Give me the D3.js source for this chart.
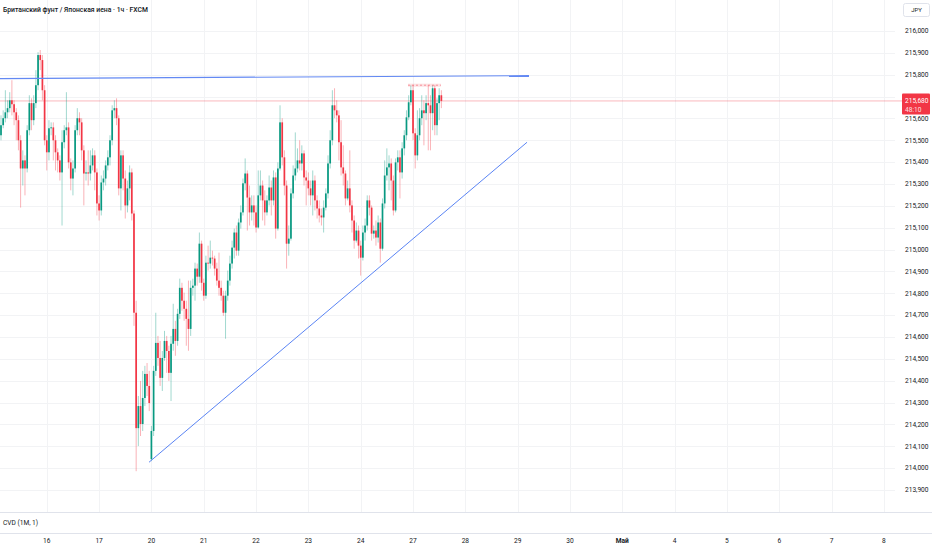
<!DOCTYPE html>
<html>
<head>
<meta charset="utf-8">
<script src="https://cdn.jsdelivr.net/npm/d3@7"></script>
<style>
  body { margin: 0; background: #ffffff; }
  #wrapper svg { display: block; font-family: Roboto, "Noto Sans", sans-serif; }
</style>
</head>
<body>
<div id="wrapper"></div>
<script>
// GBP/JPY 1h candles (price), open = previous close unless listed in gapOpens
const closes = [
  215.569, 215.601, 215.628, 215.647, 215.683, 215.665, 215.628, 215.592, 215.500, 215.371,
  215.408, 215.371, 215.546, 215.670, 215.592, 215.670, 215.752, 215.890, 215.867, 215.729,
  215.500, 215.445, 215.555, 215.559, 215.500, 215.445, 215.408, 215.353, 215.491, 215.546,
  215.559, 215.399, 215.325, 215.371, 215.546, 215.601, 215.582, 215.454, 215.348, 215.353,
  215.348, 215.385, 215.431, 215.353, 215.211, 215.179, 215.307, 215.325, 215.385, 215.422,
  215.500, 215.637, 215.647, 215.601, 215.280, 215.431, 215.325, 215.202, 215.280, 215.353,
  215.165, 214.711, 214.183, 214.284, 214.202, 214.321, 214.431, 214.376, 214.298, 214.170,
  214.445, 214.573, 214.504, 214.413, 214.504, 214.582, 214.536, 214.436, 214.569, 214.637,
  214.582, 214.706, 214.825, 214.766, 214.729, 214.683, 214.637, 214.825, 214.835, 214.913,
  214.876, 215.027, 214.848, 214.789, 214.940, 214.936, 214.963, 214.959, 214.913, 214.858,
  214.825, 214.789, 214.711, 214.789, 214.858, 214.936, 215.009, 215.078, 214.995, 215.124,
  215.170, 215.303, 215.348, 215.238, 215.170, 215.202, 215.170, 215.101, 215.248, 215.293,
  215.225, 215.170, 215.225, 215.284, 215.225, 215.330, 215.096, 215.371, 215.582, 215.422,
  215.293, 215.027, 215.050, 215.257, 215.339, 215.371, 215.408, 215.394, 215.440, 215.330,
  215.316, 215.280, 215.248, 215.316, 215.225, 215.188, 215.156, 215.147, 215.192, 215.257,
  215.394, 215.500, 215.660, 215.637, 215.614, 215.491, 215.376, 215.348, 215.234, 215.280,
  215.202, 215.133, 215.041, 215.087, 215.018, 214.963, 215.078, 215.110, 215.225, 215.192,
  215.073, 215.087, 215.055, 215.124, 215.004, 215.211, 215.339, 215.376, 215.394, 215.316,
  215.179, 215.399, 215.422, 215.353, 215.463, 215.523, 215.605, 215.674, 215.729, 215.532,
  215.431, 215.523, 215.601, 215.637, 215.624, 215.670, 215.660, 215.624, 215.738, 215.569,
  215.670, 215.706, 215.680
]
const highs = [
  215.614, 215.637, 215.729, 215.683, 215.720, 215.775, 215.683, 215.647, 215.614, 215.523,
  215.454, 215.431, 215.569, 215.706, 215.692, 215.706, 215.821, 215.903, 215.913, 215.890,
  215.752, 215.523, 215.592, 215.582, 215.582, 215.523, 215.463, 215.431, 215.546, 215.569,
  215.720, 215.582, 215.417, 215.408, 215.569, 215.647, 215.628, 215.601, 215.477, 215.408,
  215.454, 215.454, 215.463, 215.454, 215.371, 215.248, 215.339, 215.362, 215.408, 215.454,
  215.523, 215.660, 215.683, 215.692, 215.614, 215.454, 215.454, 215.362, 215.316, 215.385,
  215.371, 215.179, 214.766, 214.330, 214.399, 214.445, 214.468, 214.481, 214.445, 214.193,
  214.468, 214.711, 214.605, 214.582, 214.536, 214.628, 214.605, 214.560, 214.605, 214.752,
  214.674, 214.729, 214.867, 214.848, 214.803, 214.766, 214.858, 214.858, 214.867, 214.940,
  214.936, 215.078, 215.041, 214.867, 214.972, 215.018, 215.041, 214.995, 214.972, 214.940,
  214.986, 214.858, 214.812, 214.812, 214.904, 214.972, 215.041, 215.096, 215.110, 215.142,
  215.202, 215.325, 215.417, 215.362, 215.293, 215.248, 215.248, 215.202, 215.362, 215.362,
  215.316, 215.271, 215.248, 215.339, 215.316, 215.362, 215.353, 215.399, 215.660, 215.601,
  215.454, 215.316, 215.110, 215.280, 215.385, 215.536, 215.463, 215.500, 215.477, 215.454,
  215.362, 215.353, 215.316, 215.362, 215.339, 215.248, 215.225, 215.188, 215.225, 215.280,
  215.431, 215.546, 215.729, 215.738, 215.683, 215.637, 215.592, 215.477, 215.362, 215.316,
  215.454, 215.225, 215.156, 215.124, 215.110, 215.041, 215.110, 215.142, 215.248, 215.248,
  215.202, 215.110, 215.133, 215.156, 215.142, 215.234, 215.408, 215.463, 215.431, 215.417,
  215.339, 215.417, 215.454, 215.454, 215.491, 215.546, 215.637, 215.706, 215.752, 215.752,
  215.555, 215.637, 215.647, 215.706, 215.683, 215.706, 215.752, 215.706, 215.752, 215.752,
  215.692, 215.738, 215.729
]
const lows = [
  215.500, 215.555, 215.582, 215.601, 215.628, 215.614, 215.569, 215.500, 215.454, 215.192,
  215.293, 215.248, 215.353, 215.523, 215.546, 215.569, 215.647, 215.729, 215.821, 215.683,
  215.477, 215.362, 215.408, 215.523, 215.408, 215.362, 215.353, 215.316, 215.110, 215.463,
  215.523, 215.371, 215.271, 215.248, 215.353, 215.523, 215.523, 215.408, 215.202, 215.316,
  215.293, 215.316, 215.362, 215.271, 215.156, 215.133, 215.156, 215.271, 215.293, 215.362,
  215.385, 215.477, 215.601, 215.569, 215.248, 215.179, 215.271, 215.142, 215.170, 215.225,
  215.133, 214.651, 213.986, 214.101, 214.147, 214.170, 214.284, 214.330, 214.261, 214.032,
  214.147, 214.422, 214.468, 214.376, 214.353, 214.491, 214.436, 214.399, 214.307, 214.537,
  214.514, 214.560, 214.683, 214.720, 214.674, 214.560, 214.537, 214.605, 214.789, 214.766,
  214.835, 214.848, 214.812, 214.766, 214.775, 214.904, 214.913, 214.927, 214.881, 214.835,
  214.789, 214.766, 214.697, 214.592, 214.766, 214.835, 214.913, 214.959, 214.972, 214.972,
  215.096, 215.156, 215.271, 215.087, 215.110, 215.133, 215.110, 215.078, 215.096, 215.225,
  215.133, 215.110, 215.156, 215.202, 215.156, 215.202, 215.050, 215.087, 215.362, 215.385,
  215.248, 214.913, 214.972, 215.041, 215.234, 215.316, 215.353, 215.362, 215.362, 215.293,
  215.202, 215.248, 215.202, 215.156, 215.179, 215.142, 215.124, 215.110, 215.078, 215.179,
  215.234, 215.371, 215.477, 215.601, 215.582, 215.408, 215.339, 215.293, 215.202, 215.225,
  215.170, 215.078, 215.004, 215.032, 214.959, 214.881, 214.950, 215.041, 215.087, 215.156,
  215.041, 215.050, 215.018, 215.032, 214.940, 214.995, 215.188, 215.316, 215.271, 215.225,
  215.156, 215.170, 215.362, 215.234, 215.325, 215.431, 215.500, 215.592, 215.660, 215.500,
  215.371, 215.408, 215.500, 215.569, 215.477, 215.592, 215.454, 215.454, 215.546, 215.523,
  215.523, 215.592, 215.647
]
const firstOpen = 215.523
const gapOpens = [{ index: 69, open: 214.041 }]

// time axis: first label sits on candle 21, one day = 24 candles
const dayLabels = ["16", "17", "20", "21", "22", "23", "24", "27", "28", "29", "30", "Май", "4", "5", "6", "7", "8"]
const monthLabels = ["Май"]
const firstDayIndex = 21
const candlesPerDay = 24

const priceTicks = [
  216.0, 215.9, 215.8, 215.7, 215.6, 215.5, 215.4, 215.3, 215.2, 215.1, 215.0,
  214.9, 214.8, 214.7, 214.6, 214.5, 214.4, 214.3, 214.2, 214.1, 214.0, 213.9
]
const lastPrice = 215.680
const countdown = "48:10"

// drawings: [candle index, price]
const resistanceLine = [[-0.46, 215.782], [242.2, 215.796]]
const supportLine = [[67.9, 214.027], [241.3, 215.491]]
const sessionHigh = { from: 186.7, to: 201.8, price: 215.752 }

function drawChart() {
  const dimensions = {
    width: 932,
    height: 550,
    plotRight: 895,
    paneBottom: 512,
    cvdBottom: 533
  }

  const data = closes.map((c, i) => {
    const gap = gapOpens.find(g => g.index === i)
    const open = gap ? gap.open : (i === 0 ? firstOpen : closes[i - 1])
    return {
      i: i,
      open: open,
      close: c,
      high: Math.max(highs[i], open, c),
      low: Math.min(lows[i], open, c)
    }
  })

  const wrapper = d3.select("#wrapper")
    .append("svg")
      .attr("width", dimensions.width)
      .attr("height", dimensions.height)

  // scales
  const xScale = d3.scaleLinear()
    .domain([0, 410])
    .range([1, 1 + 410 * 2.18])

  const yScale = d3.scaleLinear()
    .domain([213.9, 216.0])
    .range([490, 31])

  // grid
  const grid = wrapper.append("g")
  grid.selectAll("line.h")
    .data(priceTicks)
    .enter().append("line")
      .attr("class", "h")
      .attr("x1", 0)
      .attr("x2", dimensions.plotRight)
      .attr("y1", d => Math.round(yScale(d)) + 0.5)
      .attr("y2", d => Math.round(yScale(d)) + 0.5)
      .attr("stroke", "#f2f3f5")

  grid.selectAll("line.v")
    .data(dayLabels)
    .enter().append("line")
      .attr("class", "v")
      .attr("x1", (d, j) => Math.round(xScale(firstDayIndex + j * candlesPerDay)) + 0.5)
      .attr("x2", (d, j) => Math.round(xScale(firstDayIndex + j * candlesPerDay)) + 0.5)
      .attr("y1", 0)
      .attr("y2", dimensions.paneBottom)
      .attr("stroke", "#f2f3f5")

  // pane separators
  wrapper.append("line")
    .attr("x1", 0).attr("x2", dimensions.width)
    .attr("y1", dimensions.paneBottom + 0.5).attr("y2", dimensions.paneBottom + 0.5)
    .attr("stroke", "#e0e3eb")
  wrapper.append("line")
    .attr("x1", 0).attr("x2", dimensions.width)
    .attr("y1", dimensions.cvdBottom + 0.5).attr("y2", dimensions.cvdBottom + 0.5)
    .attr("stroke", "#e0e3eb")

  // last price line
  wrapper.append("line")
    .attr("x1", 0)
    .attr("x2", dimensions.plotRight + 8)
    .attr("y1", yScale(lastPrice))
    .attr("y2", yScale(lastPrice))
    .attr("stroke", "#f23645")
    .attr("stroke-opacity", 0.35)

  // candles
  const up = "#089981"
  const down = "#f23645"
  const candles = wrapper.append("g")
  candles.selectAll("line.wick")
    .data(data)
    .enter().append("line")
      .attr("class", "wick")
      .attr("x1", d => xScale(d.i))
      .attr("x2", d => xScale(d.i))
      .attr("y1", d => yScale(d.high))
      .attr("y2", d => yScale(d.low))
      .attr("stroke", d => d.close >= d.open ? up : down)
      .attr("stroke-opacity", 0.38)
      .attr("stroke-width", 1)

  candles.selectAll("rect.body")
    .data(data)
    .enter().append("rect")
      .attr("class", "body")
      .attr("x", d => xScale(d.i) - 0.85)
      .attr("width", 1.7)
      .attr("y", d => yScale(Math.max(d.open, d.close)))
      .attr("height", d => Math.max(0.8, Math.abs(yScale(d.open) - yScale(d.close))))
      .attr("fill", d => d.close >= d.open ? up : down)

  // session high marker
  const sx1 = xScale(sessionHigh.from)
  const sx2 = xScale(sessionHigh.to)
  const sy = yScale(sessionHigh.price)
  wrapper.append("rect")
    .attr("x", sx1).attr("width", sx2 - sx1)
    .attr("y", sy - 1.5).attr("height", 3)
    .attr("fill", "#f23645")
    .attr("fill-opacity", 0.15)
  wrapper.append("line")
    .attr("x1", sx1).attr("x2", sx2)
    .attr("y1", sy).attr("y2", sy)
    .attr("stroke", "#f23645")
    .attr("stroke-opacity", 0.45)
    .attr("stroke-dasharray", "2,2")

  // drawings
  const lineGen = d3.line()
    .x(d => xScale(d[0]))
    .y(d => yScale(d[1]))
  wrapper.append("path")
    .attr("d", lineGen(resistanceLine))
    .attr("fill", "none")
    .attr("stroke", "#6389f3")
    .attr("stroke-width", 1.1)
  wrapper.append("path")
    .attr("d", lineGen(supportLine))
    .attr("fill", "none")
    .attr("stroke", "#5a84f4")
    .attr("stroke-width", 1)

  // price axis (the label under the last-price box stays partly hidden, as in the source)
  const fmt = d3.format(".3f")
  const lyTop = yScale(lastPrice) - 7.5
  const axisClip = wrapper.append("clipPath").attr("id", "above-box")
  axisClip.append("rect")
    .attr("x", 895).attr("y", 0)
    .attr("width", 37).attr("height", lyTop)

  wrapper.append("g")
    .selectAll("text")
    .data(priceTicks)
    .enter().append("text")
      .attr("x", 905)
      .attr("y", d => yScale(d))
      .attr("dy", "0.35em")
      .attr("font-size", 6.6)
      .attr("fill", "#131722")
      .attr("clip-path", d => Math.abs(yScale(d) - yScale(lastPrice)) < 10 && d > lastPrice ? "url(#above-box)" : null)
      .text(d => fmt(d).replace(".", ","))

  // currency box
  wrapper.append("rect")
    .attr("x", 903.5).attr("y", 3.5)
    .attr("width", 26).attr("height", 13)
    .attr("rx", 2)
    .attr("fill", "#ffffff")
    .attr("stroke", "#e0e3eb")
  wrapper.append("text")
    .attr("x", 916.5).attr("y", 10)
    .attr("dy", "0.35em")
    .attr("text-anchor", "middle")
    .attr("font-size", 6)
    .attr("fill", "#131722")
    .text("JPY")

  // last price label
  const ly = yScale(lastPrice)
  wrapper.append("rect")
    .attr("x", 902).attr("y", ly - 7.5)
    .attr("width", 28).attr("height", 21)
    .attr("rx", 1)
    .attr("fill", "#f23645")
  wrapper.append("text")
    .attr("x", 905).attr("y", ly)
    .attr("dy", "0.35em")
    .attr("font-size", 6.6)
    .attr("fill", "#ffffff")
    .text(fmt(lastPrice).replace(".", ","))
  wrapper.append("text")
    .attr("x", 905).attr("y", ly + 8.5)
    .attr("dy", "0.35em")
    .attr("font-size", 6.6)
    .attr("fill", "#ffffff")
    .attr("fill-opacity", 0.85)
    .text(countdown)

  // time axis
  wrapper.append("g")
    .selectAll("text")
    .data(dayLabels)
    .enter().append("text")
      .attr("x", (d, j) => xScale(firstDayIndex + j * candlesPerDay))
      .attr("y", 541)
      .attr("dy", "0.35em")
      .attr("text-anchor", "middle")
      .attr("font-size", 6.6)
      .attr("font-weight", d => monthLabels.includes(d) ? 700 : 400)
      .attr("fill", "#131722")
      .text(d => d)

  // titles
  wrapper.append("text")
    .attr("x", 3).attr("y", 10)
    .attr("dy", "0.35em")
    .attr("font-size", 6.8)
    .attr("font-weight", 500)
    .attr("fill", "#131722")
    .text("Британский фунт / Японская иена · 1ч · FXCM")

  wrapper.append("text")
    .attr("x", 3).attr("y", 522.5)
    .attr("dy", "0.35em")
    .attr("font-size", 6.6)
    .attr("fill", "#131722")
    .text("CVD (1M, 1)")
}

drawChart()
</script>
</body>
</html>
